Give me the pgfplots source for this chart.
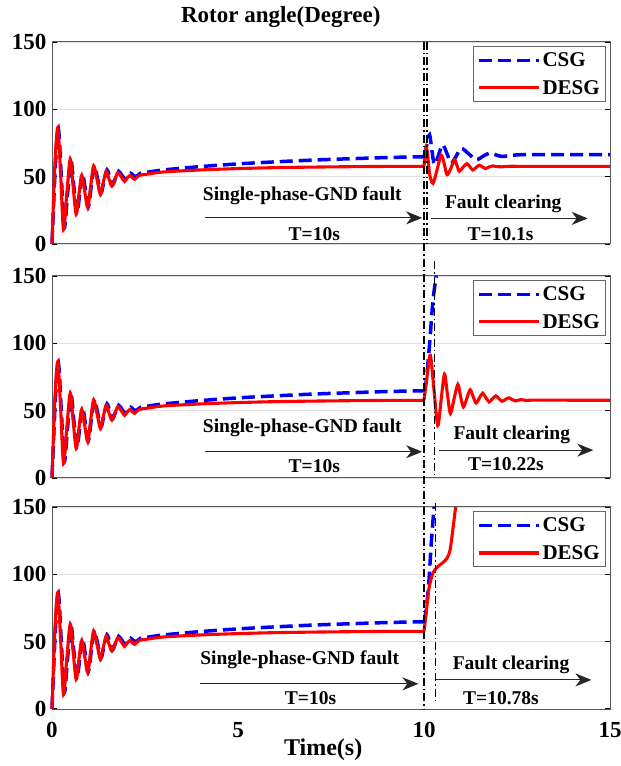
\documentclass[border=0pt]{standalone}
\usepackage{fontspec}
\setmainfont{Liberation Serif}
\usepackage{pgfplots}
\pgfplotsset{compat=1.18}
\usepackage{pgfplotstable}
\usetikzlibrary{arrows.meta}

\pgfplotstableread{
t v
0 0
0.08 60
0.156 86.5
0.235 50
0.31 11
0.40 38
0.49 63
0.57 42
0.65 22
0.725 37
0.80 51
0.88 39
0.96 27
1.04 43
1.12 58
1.21 48
1.30 37
1.38 46
1.46 54
1.535 48
1.61 43
1.69 48
1.77 53
1.86 50
1.95 46.5
2.02 49
2.10 51
2.15 49.5
2.22 48
2.28 49.5
2.35 51
2.45 51.5
2.6 52
3 53.5
4 55
5 56
6 56.7
7 57.1
8 57.4
9 57.6
10 57.7
}\redpre

\pgfplotstableread{
t v
0 0
0.09 58
0.17 86
0.25 50
0.33 12
0.42 38
0.51 62
0.59 42
0.67 23
0.745 37
0.82 52
0.90 40
0.98 28
1.06 44
1.14 58
1.23 48
1.32 38
1.40 47
1.48 55
1.555 49
1.63 44
1.71 49
1.79 54
1.88 51
1.97 48
2.04 50
2.12 52.5
2.18 51
2.25 50
2.31 51
2.38 52.5
2.5 53
3 55
4 57.5
5 59.5
6 61
7 62.3
8 63.3
9 64.2
10 64.8
}\bluepre

\pgfplotstableread{
t v
10 57.7
10.03 66
10.06 72
10.1 66
10.15 52
10.24 45
10.35 55
10.46 66
10.54 60
10.62 51.5
10.72 56
10.82 62.5
10.89 58
10.95 54
11.05 57
11.15 59.6
11.23 57.5
11.31 55
11.40 56.8
11.49 58.5
11.57 57.2
11.65 56
11.75 57.2
11.85 58
11.95 57.5
12.1 57.3
12.3 57.7
13 57.6
15 57.6
}\redpostA

\pgfplotstableread{
t v
10 64.8
10.08 74
10.15 81
10.21 70
10.28 59
10.39 66
10.5 73.7
10.62 67
10.73 60
10.86 65
11.0 71
11.2 67
11.4 62.6
11.58 65
11.76 67.5
11.95 66
12.1 65
12.34 65.8
12.6 66.3
13 66.3
15 66.3
}\bluepostA

\pgfplotstableread{
t v
10 57.7
10.08 75
10.17 91
10.27 65
10.37 39
10.46 58
10.55 77
10.63 62
10.71 48
10.81 59
10.91 69.5
10.98 61
11.06 52.7
11.15 59
11.24 65.5
11.32 60.5
11.40 55.7
11.49 59.5
11.58 63
11.66 59.8
11.75 56.5
11.84 58.8
11.93 61
12.01 59
12.1 57
12.19 58.3
12.28 59.5
12.37 58.2
12.46 57.2
12.6 58.2
12.75 57.6
13 57.8
15 57.7
}\redpostB

\pgfplotstableread{
t v
10 64.8
10.06 72
10.15 99.5
10.24 131.5
10.33 150
}\bluepostB

\pgfplotstableread{
t v
10 57.7
10.06 71.4
10.13 89
10.24 101
10.37 105.7
10.5 108.5
10.62 112
10.7 118
10.77 132
10.85 150
}\redpostC

\pgfplotstableread{
t v
10 64.4
10.06 74
10.13 94
10.19 121
10.27 150
}\bluepostC

\pgfplotsset{
  panel/.style={
    scale only axis, width=558pt, height=202pt,
    xmin=0, xmax=15, ymin=0, ymax=150,
    ytick={0,50,100,150}, xtick={0,5,10,15},
    ymajorgrids, grid style={black!12, line width=0.8pt},
    axis line style={black!65, line width=1pt},
    tick style={black, line width=1.2pt}, major tick length=5pt,
    tick align=inside, xtick style={draw=none},
    clip=false,
    ticklabel style={font=\fontsize{23}{25}\selectfont\bfseries},
    yticklabel style={xshift=-2pt},
    /pgf/number format/assume math mode=true,
    legend style={at={(0.993,0.978)}, anchor=north east, draw=black!60,
      line width=0.8pt, fill=white, font=\fontsize{21}{23}\selectfont\bfseries,
      inner sep=4pt, row sep=8pt, cells={anchor=west}},
    legend image code/.code={\draw[##1] (0pt,0pt) -- (60pt,0pt);},
  },
  csg/.style={blue, line width=3.5pt, dash pattern=on 13pt off 6pt, smooth, tension=0.5},
  desg/.style={red, line width=3.1pt, smooth, tension=0.5},
}
\tikzset{
  arr/.style={black!85, line width=1.1pt, -{Stealth[length=16pt,width=13pt,inset=5pt]}},
  ann/.style={font=\fontsize{19.5}{22}\selectfont\bfseries},
  vl/.style={black, line width=1.4pt, dash pattern=on 8pt off 3pt on 1.5pt off 3pt},
}

\begin{document}
\begin{tikzpicture}
\path[use as bounding box] (-52pt,-57pt) rectangle (569pt,709pt);

% Panel 1
\begin{axis}[panel, at={(0pt,465pt)}, xticklabels={},
  title={Rotor angle(Degree)},
  title style={at={(0.41,1)}, anchor=center, yshift=19pt, font=\fontsize{23}{25}\selectfont\bfseries}]
\addplot[csg] table {\bluepre};
\addlegendentry{CSG}
\addplot[desg] table {\redpre};
\addlegendentry{DESG}
\addplot[csg, forget plot] table {\bluepostA};
\addplot[desg, forget plot] table {\redpostA};
\node[ann] at (axis cs:6.73,35.5) {Single-phase-GND fault};
\draw[arr] (axis cs:4.1,19.4) -- (axis cs:9.95,19.4);
\node[ann] at (axis cs:7.05,7.4) {T=10s};
\node[ann] at (axis cs:12.13,30) {Fault clearing};
\draw[arr] (axis cs:10.19,19) -- (axis cs:14.4,19);
\node[ann] at (axis cs:12.06,7) {T=10.1s};
\draw[vl] (axis cs:10.08,150) -- (axis cs:10.08,0);
\coordinate (topten) at (axis cs:10,150);
\end{axis}

% Panel 2
\begin{axis}[panel, at={(0pt,231pt)}, xticklabels={}]
\addplot[csg] table {\bluepre};
\addlegendentry{CSG}
\addplot[desg] table {\redpre};
\addlegendentry{DESG}
\addplot[csg, forget plot] table {\bluepostB};
\addplot[desg, forget plot] table {\redpostB};
\node[ann] at (axis cs:6.73,37) {Single-phase-GND fault};
\draw[arr] (axis cs:4.1,19.5) -- (axis cs:9.95,19.5);
\node[ann] at (axis cs:7.05,9) {T=10s};
\node[ann] at (axis cs:12.36,31.8) {Fault clearing};
\draw[arr] (axis cs:10.4,20.7) -- (axis cs:14.55,20.7);
\node[ann] at (axis cs:12.2,10.5) {T=10.22s};
\draw[vl] (axis cs:10.28,161) -- (axis cs:10.28,3);
\end{axis}

% Panel 3
\begin{axis}[panel, at={(0pt,0pt)},
  xticklabel style={yshift=-10pt},
  xlabel={Time(s)},
  xlabel style={at={(0.486,0)}, anchor=center, yshift=-41pt, font=\fontsize{24}{26}\selectfont\bfseries}]
\addplot[csg] table {\bluepre};
\addlegendentry{CSG}
\addplot[desg] table {\redpre};
\addlegendentry{DESG}
\addplot[csg, forget plot] table {\bluepostC};
\addplot[desg, forget plot] table {\redpostC};
\node[ann] at (axis cs:6.66,36.6) {Single-phase-GND fault};
\draw[arr] (axis cs:3.97,18.7) -- (axis cs:9.85,18.7);
\node[ann] at (axis cs:6.95,8.2) {T=10s};
\node[ann] at (axis cs:12.34,32.8) {Fault clearing};
\draw[arr] (axis cs:10.33,21.6) -- (axis cs:14.5,21.6);
\node[ann] at (axis cs:12.07,8) {T=10.78s};
\draw[vl] (axis cs:10.31,153) -- (axis cs:10.31,5);
\coordinate (botten) at (axis cs:10,0);
\end{axis}

\draw[vl] (topten) -- (botten);
\end{tikzpicture}
\end{document}
